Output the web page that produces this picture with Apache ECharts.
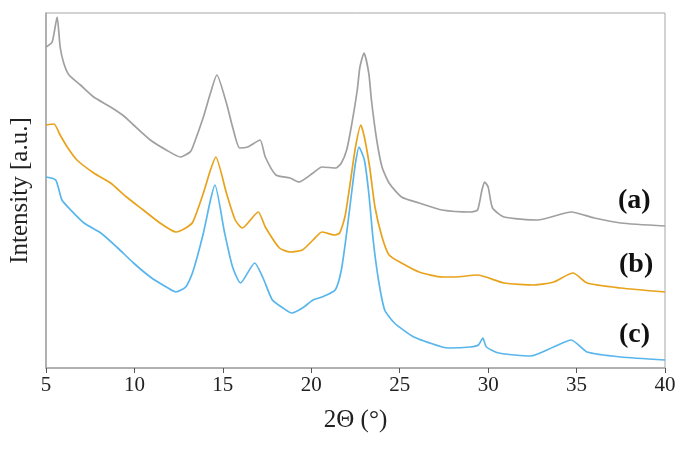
<!DOCTYPE html>
<html>
<head>
<meta charset="utf-8">
<script src="https://cdn.jsdelivr.net/npm/echarts@6/dist/echarts.min.js"></script>
<style>
  html, body { margin: 0; padding: 0; background: #fff; }
  #chart { width: 685px; height: 450px; }
</style>
</head>
<body>
<div id="chart"></div>
<script>
// 2theta positions and intensities (a.u.)
var thetaA = [5.0, 5.35, 5.63, 5.8, 6.0, 6.3, 6.95, 7.7, 8.65, 9.4, 9.95, 10.9, 11.8, 12.6, 13.15, 13.3, 13.9, 14.3, 14.66, 15.2, 15.55, 15.95, 16.4, 17.1, 17.4, 18.0, 18.8, 19.3, 20.1, 20.6, 21.4, 21.7, 22.0, 22.3, 22.6, 22.75, 22.98, 23.25, 23.4, 23.7, 24.0, 24.4, 25.1, 26.1, 27.4, 29.0, 29.4, 29.65, 29.8, 30.0, 30.25, 30.9, 32.8, 34.7, 36.0, 37.5, 40.0];
var intA   = [321, 326, 351, 321, 305, 293, 283, 271, 261, 252, 243, 228, 218, 211, 216, 221, 251, 275, 293, 265, 241, 220, 221, 228, 211, 193, 190, 186, 195, 201, 200, 205, 218, 245, 278, 301, 315, 295, 268, 228, 201, 185, 171, 165, 158, 156, 158, 178, 186, 181, 160, 151, 148, 156, 150, 145, 142];

var thetaB = [5.0, 5.45, 5.8, 6.2, 6.75, 7.7, 8.65, 9.55, 10.5, 11.45, 12.35, 12.9, 13.3, 13.9, 14.3, 14.6, 15.2, 15.7, 16.1, 17.0, 17.4, 18.2, 18.8, 19.5, 20.1, 20.6, 21.3, 21.6, 21.9, 22.2, 22.5, 22.8, 23.0, 23.3, 23.6, 24.0, 24.4, 25.1, 26.1, 27.4, 28.1, 29.4, 30.9, 32.6, 33.7, 34.8, 35.6, 37.5, 40.0];
var intB   = [243, 244, 233, 221, 208, 195, 185, 171, 158, 145, 136, 140, 146, 175, 198, 211, 175, 148, 140, 156, 141, 120, 116, 118, 128, 136, 133, 135, 151, 185, 221, 243, 231, 201, 161, 131, 113, 105, 96, 91, 91, 93, 85, 83, 86, 95, 85, 80, 76];

var thetaC = [5.0, 5.55, 5.9, 6.4, 7.15, 8.1, 9.0, 9.95, 10.9, 11.8, 12.35, 12.9, 13.3, 13.9, 14.3, 14.55, 15.1, 15.55, 16.0, 16.8, 17.25, 17.8, 18.4, 18.9, 19.5, 20.1, 20.6, 21.35, 21.7, 22.0, 22.3, 22.5, 22.7, 23.0, 23.25, 23.5, 23.8, 24.15, 24.7, 25.8, 27.4, 27.8, 29.0, 29.45, 29.7, 29.9, 30.6, 32.4, 33.7, 34.7, 35.6, 37.5, 40.0];
var intC   = [191, 188, 168, 158, 145, 135, 121, 105, 91, 81, 76, 81, 96, 135, 168, 183, 135, 101, 85, 105, 91, 68, 60, 55, 60, 68, 71, 78, 98, 135, 178, 205, 221, 208, 175, 128, 88, 58, 45, 31, 21, 20, 21, 23, 30, 21, 15, 12, 21, 28, 16, 11, 8];

var xTicks = [5, 10, 15, 20, 25, 30, 35, 40];
var sampleNames = ['(a)', '(b)', '(c)'];

function pairs(xs, ys) {
  var out = [];
  for (var i = 0; i < xs.length; i++) {
    out.push([xs[i], ys[i]]);
  }
  return out;
}

var font = '"Liberation Serif", "DejaVu Serif", serif';
var myChart = echarts.init(document.getElementById('chart'));

var option = {
  animation: false,
  grid: {
    left: 42, right: 20, top: 13, bottom: 82,
    show: true,
    borderColor: '#a6a6a6',
    borderWidth: 1
  },
  xAxis: {
    type: 'value',
    min: xTicks[0],
    max: xTicks[xTicks.length - 1],
    interval: 5,
    name: '2\u0398 (\u00b0)',
    nameLocation: 'middle',
    nameGap: 40,
    nameTextStyle: { fontFamily: font, fontSize: 25, color: '#222' },
    axisLine: { lineStyle: { color: '#a6a6a6', width: 1.5 } },
    axisTick: { show: true, length: 5, lineStyle: { color: '#555' } },
    axisLabel: { fontFamily: font, fontSize: 21, color: '#222', margin: 7 },
    splitLine: { show: false }
  },
  yAxis: {
    type: 'value',
    min: 0,
    max: 355,
    name: 'Intensity [a.u.]',
    nameLocation: 'middle',
    nameGap: 13,
    nameTextStyle: { fontFamily: font, fontSize: 25, color: '#222' },
    axisLine: { show: true, lineStyle: { color: '#a6a6a6', width: 1.5 } },
    axisTick: { show: false },
    axisLabel: { show: false },
    splitLine: { show: false }
  },
  series: [
    {
      name: sampleNames[0], type: 'line', showSymbol: false, smooth: 0.2,
      data: pairs(thetaA, intA),
      lineStyle: { color: '#a0a0a0', width: 1.7 }
    },
    {
      name: sampleNames[1], type: 'line', showSymbol: false, smooth: 0.2,
      data: pairs(thetaB, intB),
      lineStyle: { color: '#e8a21b', width: 1.7 }
    },
    {
      name: sampleNames[2], type: 'line', showSymbol: false, smooth: 0.2,
      data: pairs(thetaC, intC),
      lineStyle: { color: '#58b6ec', width: 1.7 }
    }
  ],
  graphic: [
    { type: 'text', left: 618, top: 187, style: { text: sampleNames[0], font: 'bold 28px ' + font, fill: '#111' } },
    { type: 'text', left: 619, top: 251, style: { text: sampleNames[1], font: 'bold 28px ' + font, fill: '#111' } },
    { type: 'text', left: 619, top: 321, style: { text: sampleNames[2], font: 'bold 28px ' + font, fill: '#111' } }
  ]
};
myChart.setOption(option);
</script>
</body>
</html>
